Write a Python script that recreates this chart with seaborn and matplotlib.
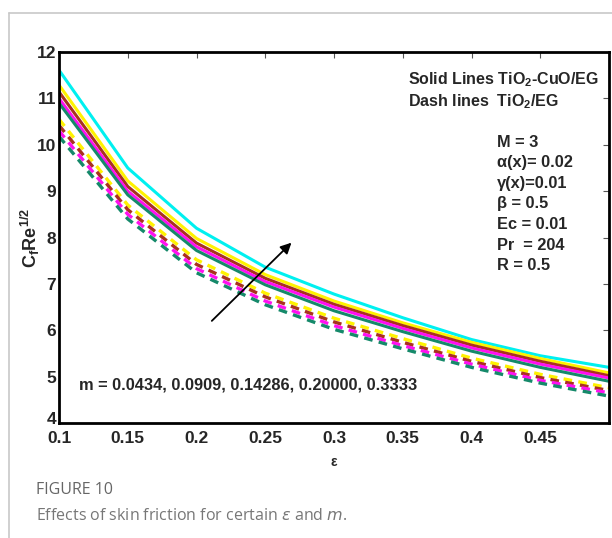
import matplotlib
matplotlib.use("Agg")
import matplotlib.pyplot as plt
import matplotlib.transforms as mtransforms
import seaborn as sns
import numpy as np

sns.set_theme(style="white")
plt.rcParams['font.family'] = ['Liberation Sans', 'DejaVu Sans']

# Skin friction C_f Re^{1/2} versus epsilon for five values of m
eps = [0.10, 0.15, 0.20, 0.25, 0.30, 0.35, 0.40, 0.45, 0.50]

# Hybrid nanofluid TiO2-CuO/EG (solid lines)
hybrid_cyan = [11.61, 9.50, 8.20, 7.36, 6.78, 6.27, 5.80, 5.45, 5.20]
hybrid_yellow = [11.29, 9.22, 7.98, 7.20, 6.63, 6.16, 5.74, 5.39, 5.08]
hybrid_brown = [11.14, 9.10, 7.88, 7.12, 6.56, 6.10, 5.68, 5.33, 5.02]
hybrid_magenta = [11.00, 9.00, 7.80, 7.05, 6.50, 6.04, 5.62, 5.27, 4.97]
hybrid_green = [10.90, 8.92, 7.72, 6.98, 6.42, 5.97, 5.55, 5.20, 4.90]

# Nanofluid TiO2/EG (dashed lines)
nano_yellow = [10.55, 8.70, 7.52, 6.80, 6.26, 5.82, 5.40, 5.05, 4.76]
nano_brown = [10.42, 8.60, 7.42, 6.72, 6.18, 5.74, 5.33, 4.98, 4.70]
nano_magenta = [10.30, 8.50, 7.33, 6.63, 6.10, 5.67, 5.27, 4.92, 4.65]
nano_green = [10.18, 8.40, 7.24, 6.55, 6.02, 5.60, 5.20, 4.86, 4.58]

xticks = [0.1, 0.15, 0.2, 0.25, 0.3, 0.35, 0.4, 0.45]
xtick_labels = ["0.1", "0.15", "0.2", "0.25", "0.3", "0.35", "0.4", "0.45"]
yticks = [4, 5, 6, 7, 8, 9, 10, 11, 12]

CYAN = "#00F0F0"
YELLOW = "#FFF200"
BROWN = "#A8321E"
MAGENTA = "#FF10F0"
GREEN = "#15896A"

fig = plt.figure(figsize=(6.12, 5.38), dpi=100)
ax = fig.add_axes([59 / 612, 1 - 423 / 538, 550 / 612, 371 / 538])

solid = [(hybrid_cyan, CYAN), (hybrid_yellow, YELLOW), (hybrid_brown, BROWN),
         (hybrid_magenta, MAGENTA), (hybrid_green, GREEN)]
dashed = [(nano_yellow, YELLOW), (nano_brown, BROWN),
          (nano_magenta, MAGENTA), (nano_green, GREEN)]

for vals, col in dashed:
    sns.lineplot(x=eps, y=vals, ax=ax, color=col, linewidth=2.4,
                 dashes=False, legend=False)
    ax.lines[-1].set_dashes((2.6, 1.9))
for vals, col in solid:
    sns.lineplot(x=eps, y=vals, ax=ax, color=col, linewidth=2.2, legend=False)

ax.set_xlim(0.1, 0.5)
ax.set_ylim(4, 12)
ax.set_xticks(xticks)
ax.set_xticklabels(xtick_labels)
ax.set_yticks(yticks)
ax.tick_params(direction="in", length=4, width=0.8, color="#555555",
               top=True, right=True, labelsize=12.5)
ax.tick_params(axis="x", pad=6)
ax.tick_params(axis="y", pad=2)
for lab in ax.get_xticklabels() + ax.get_yticklabels():
    lab.set_fontweight("bold")
# lift the bottom y label a little so it clears the first x label
bottom_label = ax.get_yticklabels()[0]
bottom_label.set_transform(bottom_label.get_transform() +
                           mtransforms.ScaledTranslation(0, 5 / 100, fig.dpi_scale_trans))
for side, sp in ax.spines.items():
    sp.set_visible(True)
    sp.set_color("black")
    sp.set_linewidth(2.0)

ax.set_xlabel("ε", fontsize=10, fontweight="bold", labelpad=6)
ax.set_ylabel(r"C$_\mathregular{f}$Re$^\mathregular{1/2}$", fontsize=13,
              fontweight="bold", labelpad=-4)

# Legend text for line styles
ax.text(0.635, 0.925, r"Solid Lines TiO$_\mathregular{2}$-CuO/EG", transform=ax.transAxes,
        fontsize=11.5, fontweight="bold", va="center", ha="left")
ax.text(0.635, 0.866, r"Dash lines  TiO$_\mathregular{2}$/EG", transform=ax.transAxes,
        fontsize=11.5, fontweight="bold", va="center", ha="left")

params = ["M = 3", "α(x)= 0.02", "γ(x)=0.01", "β = 0.5", "Ec = 0.01",
          "Pr  = 204", "R = 0.5"]
for i, p in enumerate(params):
    ax.text(0.796, 0.757 - i * 0.0555, p, transform=ax.transAxes,
            fontsize=11.8, fontweight="bold", va="center", ha="left")

m_values = ["0.0434", "0.0909", "0.14286", "0.20000", "0.3333"]
ax.text(0.1145, 4.83, "m = " + ", ".join(m_values), fontsize=11.8,
        fontweight="bold", va="center", ha="left")

# Arrow showing the direction of increasing m
ax.annotate("", xy=(0.2705, 7.93), xytext=(0.2097, 6.16),
            arrowprops=dict(arrowstyle="-|>", color="black", lw=1.3,
                            mutation_scale=16))

# Page frame and caption
fig.add_artist(plt.Line2D([9 / 612, 9 / 612], [0, 1 - 13 / 538],
                          color="#c8c8c8", lw=1.2, transform=fig.transFigure))
fig.add_artist(plt.Line2D([9 / 612, 1], [1 - 13 / 538, 1 - 13 / 538],
                          color="#c8c8c8", lw=1.2, transform=fig.transFigure))
fig.text(36 / 612, 1 - 490 / 538, "FIGURE 10", fontsize=11.5, color="#666666",
         family=["Open Sans", "DejaVu Sans"], va="center", ha="left")
fig.text(36 / 612, 1 - 516 / 538,
         r"Effects of skin friction for certain $\it{\varepsilon}$ and $\it{m}$.",
         fontsize=11.5, color="#777777", family=["Open Sans", "DejaVu Sans"],
         va="center", ha="left")

fig.savefig("out.png", dpi=100)
